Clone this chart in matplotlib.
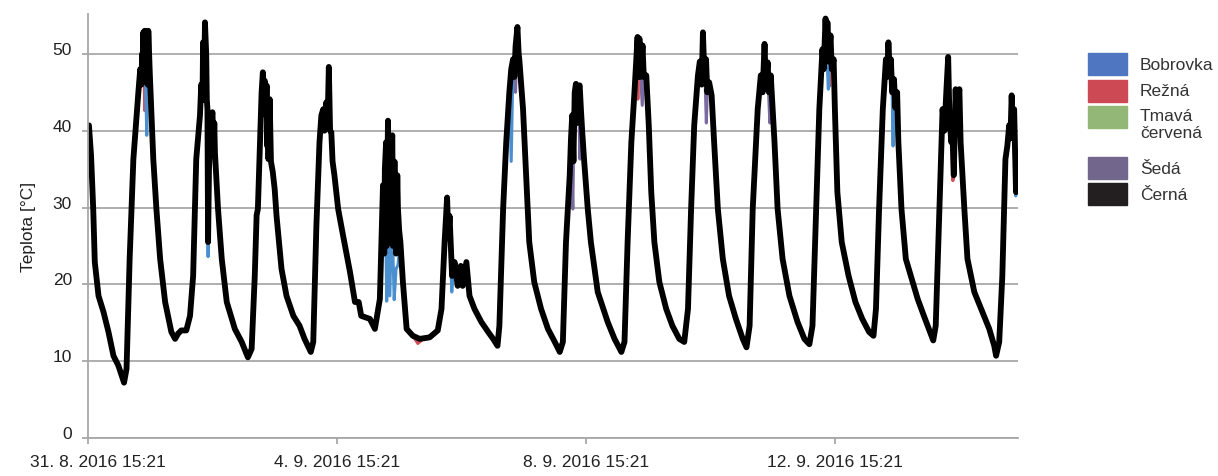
import numpy as np
import matplotlib.pyplot as plt
from matplotlib.patches import Rectangle
from matplotlib.transforms import ScaledTranslation

# days since 31.8.2016 15:21 and temperatures in degC
cerna_days = [0.016, 0.05, 0.085, 0.11, 0.17, 0.25, 0.33, 0.41, 0.49, 0.58, 0.62, 0.67,
              0.73, 0.81, 0.84, 0.86, 0.87, 0.88, 0.89, 0.90, 0.91, 0.92, 0.93, 0.94,
              0.95, 0.96, 0.97, 0.995, 1.05, 1.10, 1.16, 1.24, 1.34, 1.40, 1.45, 1.50,
              1.58, 1.64, 1.69, 1.74, 1.80, 1.82, 1.84, 1.85, 1.87, 1.88, 1.90, 1.91,
              1.92, 1.93, 1.945, 1.96, 1.98, 2.00, 2.02, 2.03, 2.04, 2.09, 2.15, 2.23,
              2.36, 2.47, 2.57, 2.63, 2.68, 2.71, 2.73, 2.79, 2.81, 2.83, 2.84, 2.86,
              2.87, 2.88, 2.89, 2.90, 2.92, 2.94, 2.97, 3.00, 3.03, 3.11, 3.19, 3.30,
              3.40, 3.48, 3.58, 3.62, 3.67, 3.72, 3.75, 3.78, 3.80, 3.83, 3.85, 3.87,
              3.89, 3.91, 3.93, 3.96, 4.02, 4.10, 4.21, 4.29, 4.35, 4.39, 4.53, 4.61,
              4.69, 4.74, 4.76, 4.77, 4.79, 4.80, 4.82, 4.84, 4.86, 4.87, 4.89, 4.90,
              4.92, 4.93, 4.95, 4.97, 4.98, 5.00, 5.02, 5.06, 5.12, 5.22, 5.33, 5.49,
              5.62, 5.68, 5.73, 5.77, 5.79, 5.81, 5.85, 5.89, 5.94, 5.99, 6.02, 6.08,
              6.13, 6.21, 6.32, 6.43, 6.51, 6.58, 6.61, 6.67, 6.72, 6.77, 6.80, 6.83,
              6.85, 6.87, 6.90, 6.92, 6.93, 6.99, 7.04, 7.09, 7.17, 7.28, 7.39, 7.50,
              7.58, 7.63, 7.68, 7.74, 7.76, 7.78, 7.80, 7.82, 7.84, 7.86, 7.88, 7.90,
              7.92, 7.94, 7.97, 8.03, 8.08, 8.19, 8.35, 8.46, 8.57, 8.62, 8.67, 8.73,
              8.78, 8.81, 8.83, 8.84, 8.86, 8.88, 8.91, 8.93, 8.97, 9.01, 9.05, 9.10,
              9.18, 9.29, 9.39, 9.50, 9.58, 9.64, 9.69, 9.74, 9.80, 9.83, 9.86, 9.88,
              9.90, 9.93, 9.95, 9.98, 10.02, 10.06, 10.12, 10.20, 10.30, 10.41, 10.52, 10.58,
              10.63, 10.68, 10.76, 10.81, 10.84, 10.87, 10.89, 10.92, 10.94, 10.97, 11.03, 11.08,
              11.16, 11.27, 11.40, 11.51, 11.59, 11.64, 11.70, 11.75, 11.80, 11.82, 11.85, 11.87,
              11.88, 11.90, 11.93, 11.95, 11.98, 12.00, 12.04, 12.11, 12.22, 12.33, 12.44, 12.55,
              12.62, 12.66, 12.71, 12.77, 12.82, 12.84, 12.86, 12.88, 12.90, 12.92, 12.95, 12.97,
              13.00, 13.02, 13.07, 13.14, 13.22, 13.33, 13.43, 13.51, 13.58, 13.62, 13.68, 13.73,
              13.76, 13.79, 13.82, 13.84, 13.87, 13.89, 13.91, 13.94, 13.96, 13.98, 14.00, 14.02,
              14.08, 14.13, 14.24, 14.37, 14.48, 14.56, 14.59, 14.64, 14.69, 14.74, 14.77, 14.80,
              14.82, 14.84, 14.86, 14.88, 14.91, 14.94]
cerna_temp = [40.7, 36.8, 29.8, 22.9, 18.5, 16.4, 13.8, 10.7, 9.4, 7.2, 9.0, 23.3,
              36.3, 45.0, 48.0, 46.0, 50.0, 47.0, 52.8, 48.0, 53.0, 49.0, 53.0, 47.0,
              52.8, 46.0, 53.0, 47.2, 36.3, 29.8, 23.3, 17.7, 13.8, 12.9, 13.6, 14.0,
              14.0, 15.9, 21.1, 36.3, 42.0, 46.0, 44.0, 51.5, 48.0, 54.1, 50.0, 44.0,
              42.8, 25.5, 35.0, 38.5, 41.0, 42.4, 38.0, 41.0, 37.2, 29.8, 23.3, 17.7,
              14.2, 12.5, 10.5, 11.6, 21.1, 29.0, 29.8, 45.0, 47.6, 44.0, 46.5, 42.0,
              45.9, 38.0, 40.7, 36.3, 44.1, 36.0, 34.6, 32.4, 28.9, 22.0, 18.5, 15.9,
              14.6, 12.9, 11.2, 12.5, 27.6, 38.5, 42.0, 42.8, 40.0, 43.7, 41.0, 48.3,
              40.0, 39.8, 36.0, 34.2, 29.8, 26.3, 21.6, 17.7, 17.7, 15.9, 15.5, 14.2,
              18.1, 32.9, 24.0, 35.0, 38.5, 25.0, 41.3, 28.0, 29.8, 38.0, 39.4, 25.0,
              36.0, 35.9, 24.0, 34.2, 30.0, 27.0, 25.5, 20.3, 14.2, 13.3, 12.9, 13.1,
              14.0, 16.8, 25.5, 31.3, 26.0, 28.9, 21.1, 22.9, 19.8, 22.4, 19.8, 22.9,
              18.5, 16.8, 15.1, 13.8, 12.9, 12.0, 14.6, 29.8, 38.5, 45.0, 48.0, 49.3,
              47.0, 51.0, 53.5, 50.0, 49.3, 42.8, 34.2, 25.5, 20.3, 16.8, 14.2, 12.5,
              11.2, 12.5, 25.5, 34.2, 38.9, 42.0, 36.0, 45.0, 46.1, 41.0, 45.5, 45.9,
              42.8, 40.0, 36.3, 29.8, 25.5, 19.0, 15.1, 12.9, 11.2, 12.5, 25.5, 38.5,
              45.0, 49.3, 52.2, 47.0, 52.0, 47.0, 51.1, 47.0, 47.2, 40.7, 32.0, 25.5,
              20.3, 16.8, 14.6, 12.9, 12.5, 16.8, 29.8, 40.7, 47.2, 49.0, 46.0, 52.8,
              48.0, 49.3, 45.0, 46.3, 44.6, 38.5, 29.8, 23.3, 18.5, 15.5, 12.9, 11.8,
              14.6, 29.8, 42.8, 47.2, 45.0, 51.3, 46.0, 48.9, 45.0, 47.2, 38.5, 29.8,
              23.3, 18.5, 15.1, 12.9, 12.2, 14.6, 29.8, 42.8, 50.6, 48.0, 54.6, 50.0,
              54.1, 49.0, 52.4, 48.0, 49.3, 42.8, 32.0, 25.5, 21.1, 17.7, 15.5, 13.8,
              13.3, 16.8, 29.8, 42.8, 49.3, 47.0, 51.5, 48.0, 49.3, 45.0, 46.7, 43.0,
              45.0, 38.5, 29.8, 23.3, 21.1, 18.1, 15.9, 14.2, 12.7, 14.6, 29.8, 42.8,
              40.0, 45.0, 49.6, 42.0, 38.5, 40.0, 34.2, 45.4, 40.0, 44.0, 45.4, 38.5,
              29.8, 23.3, 19.0, 16.4, 14.2, 12.0, 10.7, 12.5, 21.1, 36.3, 38.0, 40.7,
              39.0, 44.6, 40.0, 42.8, 32.0, 33.0]

# the other tiles only show where they dip below the black line
bobrovka_days = [0.92, 0.945, 0.96, np.nan, 1.92, 1.93, 1.945, np.nan, 2.86, 2.875, 2.89, np.nan,
                 4.77, 4.80, 4.82, 4.85, 4.88, 4.92, 4.95, 4.98, 5.02, np.nan,
                 5.81, 5.845, 5.87, np.nan, 6.77, 6.80, 6.83, np.nan, 11.87, 11.895, 11.91, np.nan,
                 12.92, 12.935, 12.95, np.nan, 14.88, 14.905, 14.91]
bobrovka_temp = [49.0, 39.4, 46.0, np.nan, 42.8, 23.6, 35.0, np.nan, 42.0, 37.6, 40.7, np.nan,
                 35.0, 17.8, 30.0, 18.5, 30.0, 18.0, 22.0, 22.5, 25.5, np.nan,
                 28.9, 19.0, 22.0, np.nan, 45.0, 36.0, 49.3, np.nan, 50.0, 45.4, 50.0, np.nan,
                 45.0, 38.0, 46.7, np.nan, 42.8, 31.5, 32.0]

rezna_days = [0.90, 0.915, 0.93, np.nan, 5.22, 5.30, 5.40, np.nan, 8.82, 8.835, 8.85, np.nan,
              11.89, 11.905, 11.92, np.nan, 13.87, 13.895, 13.91]
rezna_temp = [48.0, 42.6, 53.0, np.nan, 13.3, 12.3, 13.0, np.nan, 50.0, 44.1, 50.0, np.nan,
              52.0, 46.0, 52.0, np.nan, 38.5, 33.5, 34.2]

tmava_days = [12.93, 12.945, 12.96]
tmava_temp = [44.0, 39.2, 45.0]

seda_days = [6.85, 6.87, 6.89, np.nan, 7.76, 7.79, 7.80, np.nan, 7.88, 7.905, 7.92, np.nan,
             8.88, 8.905, 8.93, np.nan, 9.91, 9.935, 9.95, np.nan, 10.93, 10.955, 10.97, np.nan,
             11.90, 11.915, 11.93, np.nan, 14.86, 14.885, 14.90]
seda_temp = [47.0, 45.0, 52.0, np.nan, 38.9, 29.8, 36.0, np.nan, 45.5, 36.3, 42.8, np.nan,
             47.0, 43.3, 47.0, np.nan, 48.0, 41.0, 45.0, np.nan, 46.0, 41.0, 47.2, np.nan,
             49.0, 45.8, 52.0, np.nan, 40.0, 36.3, 37.0]

labels = ['Bobrovka', 'Režná', 'Tmavá\nčervená', 'Šedá', 'Černá']
colors = ['#4f76c0', '#cd4a54', '#93b777', '#72668c', '#231f20']

tick_days = [0, 4, 8, 12]
tick_labels = ['31. 8. 2016 15:21', '4. 9. 2016 15:21', '8. 9. 2016 15:21', '12. 9. 2016 15:21']

plt.rcParams['font.family'] = ['Liberation Sans', 'DejaVu Sans']

fig = plt.figure(figsize=(12.18, 4.77), dpi=100)
ax = fig.add_axes([0.0722, 0.0797, 0.7635, 0.889])

lw = 2.2
ax.plot(tmava_days, tmava_temp, color='#8ab86a', lw=lw)
ax.plot(seda_days, seda_temp, color='#7a6aa0', lw=lw)
ax.plot(rezna_days, rezna_temp, color='#d0505a', lw=lw)
ax.plot(bobrovka_days, bobrovka_temp, color='#4a90d0', lw=lw)
ax.plot(cerna_days, cerna_temp, color='black', lw=4.2, solid_joinstyle='round',
        solid_capstyle='round')

ax.set_xlim(0, 14.94)
ax.set_ylim(0, 55.2)
ax.set_yticks([0, 10, 20, 30, 40, 50])
ax.set_xticks(tick_days)
ax.set_xticklabels(tick_labels)
ax.grid(axis='y', color='#a8a8a8', lw=1.3)
ax.set_axisbelow(True)
for s in ['top', 'right']:
    ax.spines[s].set_visible(False)
for s in ['left', 'bottom']:
    ax.spines[s].set_color('#a8a8a8')
    ax.spines[s].set_linewidth(1.3)
ax.tick_params(axis='both', colors='#a8a8a8', labelcolor='#222222', labelsize=12.5,
               length=4.5, width=1.3)
ax.tick_params(axis='y', pad=7)
ax.tick_params(axis='x', pad=7)
offset = ScaledTranslation(0, 6 / 100, fig.dpi_scale_trans)
for lab in ax.get_yticklabels():
    lab.set_transform(lab.get_transform() + offset)
first = ax.get_xticklabels()[0]
first.set_transform(first.get_transform() + ScaledTranslation(10 / 100, 0, fig.dpi_scale_trans))
ax.set_ylabel('Teplota [°C]', fontsize=12.5, color='#222222', labelpad=12)

# legend drawn by hand to keep the two-line entry aligned at the top
leg_tops = [54, 81, 107, 158, 184]
for lab, col, top in zip(labels, colors, leg_tops):
    fig.patches.append(Rectangle((1088 / 1218, 1 - (top + 22) / 477), 39 / 1218, 22 / 477,
                                 transform=fig.transFigure, color=col))
    if '\n' in lab:
        fig.text(1140 / 1218, 1 - (top + 2) / 477, lab, fontsize=12.5, color='#333333',
                 va='top', linespacing=1.2)
    else:
        fig.text(1140 / 1218, 1 - (top + 11) / 477, lab, fontsize=12.5, color='#333333',
                 va='center')

fig.savefig('out.png', dpi=100)
